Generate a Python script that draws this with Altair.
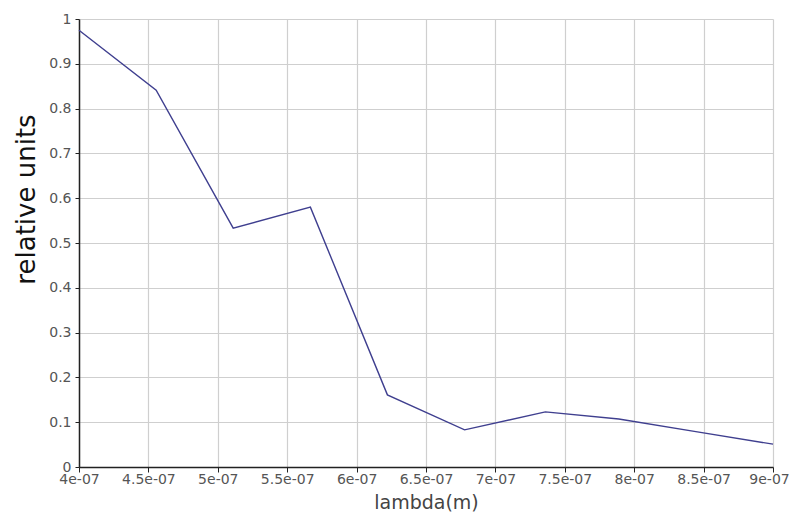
import altair as alt
import pandas as pd

lam = [4.0e-07, 4.556e-07, 5.111e-07, 5.667e-07, 6.222e-07, 6.778e-07,
       7.36e-07, 7.889e-07, 8.444e-07, 9.0e-07]
vals = [0.975, 0.841, 0.533, 0.580, 0.161, 0.083, 0.123, 0.107, 0.079, 0.051]

df = pd.DataFrame({"lambda": lam, "value": vals})

x_ticks = [4e-07, 4.5e-07, 5e-07, 5.5e-07, 6e-07, 6.5e-07, 7e-07, 7.5e-07, 8e-07, 8.5e-07, 9e-07]
y_ticks = [0, 0.1, 0.2, 0.3, 0.4, 0.5, 0.6, 0.7, 0.8, 0.9, 1]

FONT = "DejaVu Sans"

chart = alt.Chart(df).mark_line(color="#3f3f8f", strokeWidth=1.4).encode(
    x=alt.X("lambda:Q",
            scale=alt.Scale(domain=[4e-07, 9e-07], nice=False, zero=False),
            axis=alt.Axis(values=x_ticks,
                          labelExpr="round(datum.value * 1e8) / 10 + 'e-07'",
                          title="lambda(m)",
                          titleFontSize=19, titleFontWeight="normal", titleColor="#444",
                          titleFont=FONT, titlePadding=7,
                          labelFont=FONT, labelFontSize=14, labelColor="#555",
                          labelPadding=0, labelOverlap=False, labelFlush=False,
                          labelOffset={"condition": {"test": "datum.value > 8.9e-7", "value": -4},
                                       "value": 0},
                          tickSize=5, tickColor="#222", domainColor="#222",
                          domainWidth=1.5, gridColor="#cfcfcf", gridWidth=1.2)),
    y=alt.Y("value:Q",
            scale=alt.Scale(domain=[0, 1], nice=False),
            axis=alt.Axis(values=y_ticks, format="~g", title="relative units",
                          titleFontSize=26, titleFontWeight="normal", titleColor="#111",
                          titleFont=FONT, titleX=-40, titleY=180,
                          labelFont=FONT, labelFontSize=14, labelColor="#555",
                          labelPadding=4, tickSize=4, tickColor="#222",
                          domainColor="#222", domainWidth=1.5,
                          gridColor="#cfcfcf", gridWidth=1.2)),
).properties(
    width=694, height=448,
    autosize=alt.AutoSizeParams(type="none"),
    padding={"left": 71, "top": 11, "right": 16, "bottom": 52},
).configure_view(stroke=None)

chart.save("out.html", embed_options={"renderer": "svg", "actions": False})
